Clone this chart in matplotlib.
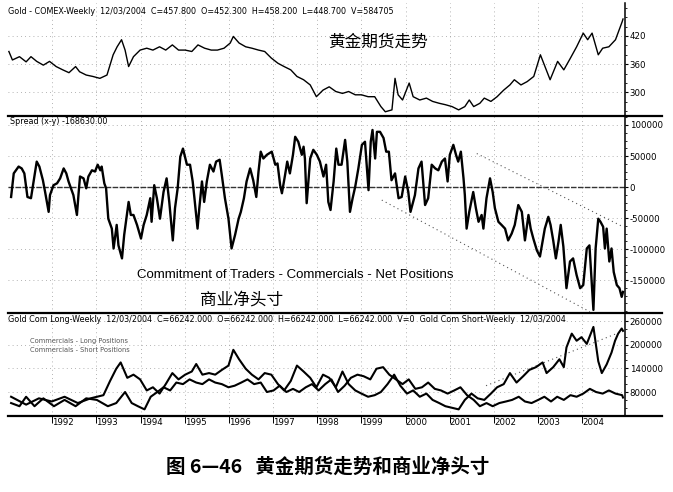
import matplotlib
matplotlib.use("Agg")
import matplotlib.pyplot as plt
from matplotlib.lines import Line2D
from matplotlib.ticker import MultipleLocator

# --- data (decimal years) ---
gold_t = [1991.02, 1991.10, 1991.26, 1991.41, 1991.52, 1991.65, 1991.80, 1991.94,
          1992.09, 1992.24, 1992.38, 1992.53, 1992.62, 1992.77, 1992.92, 1993.08,
          1993.24, 1993.38, 1993.47, 1993.57, 1993.65, 1993.73, 1993.84, 1993.99,
          1994.14, 1994.28, 1994.43, 1994.57, 1994.72, 1994.86, 1995.01, 1995.16,
          1995.30, 1995.45, 1995.60, 1995.74, 1995.89, 1996.03, 1996.10, 1996.23,
          1996.38, 1996.52, 1996.67, 1996.81, 1996.96, 1997.11, 1997.25, 1997.40,
          1997.54, 1997.69, 1997.84, 1997.98, 1998.13, 1998.27, 1998.42, 1998.57,
          1998.71, 1998.86, 1999.00, 1999.15, 1999.30, 1999.44, 1999.54, 1999.69,
          1999.76, 1999.83, 1999.93, 2000.08, 2000.17, 2000.32, 2000.47, 2000.61,
          2000.76, 2000.90, 2001.05, 2001.20, 2001.34, 2001.44, 2001.54, 2001.68,
          2001.78, 2001.93, 2002.07, 2002.22, 2002.36, 2002.46, 2002.61, 2002.75,
          2002.90, 2003.05, 2003.27, 2003.44, 2003.58, 2003.73, 2003.87, 2004.02,
          2004.12, 2004.22, 2004.36, 2004.46, 2004.60, 2004.75, 2004.90, 2004.92]
gold = [387, 369, 376, 365, 376, 366, 358, 366, 355, 348, 342, 355, 344, 337, 334, 330,
        337, 380, 397, 412, 390, 355, 376, 390, 394, 390, 397, 390, 401, 390, 390, 387,
        401, 394, 390, 390, 394, 405, 419, 405, 397, 394, 390, 387, 373, 362, 355, 348,
        334, 327, 316, 291, 305, 312, 302, 298, 302, 295, 295, 291, 291, 270, 259, 263,
        330, 295, 284, 320, 291, 284, 288, 281, 277, 274, 270, 263, 270, 284, 270, 277,
        288, 281, 291, 305, 316, 327, 316, 323, 334, 380, 327, 366, 348, 373, 397, 426,
        412, 426, 380, 394, 397, 412, 450, 456]

# commercials net position (long - short), thousands of contracts
net_t = [1991.07, 1991.13, 1991.24, 1991.31, 1991.37, 1991.44, 1991.52, 1991.65, 1991.71,
         1991.79, 1991.84, 1991.92, 1991.95, 1992.03, 1992.11, 1992.18, 1992.26, 1992.32,
         1992.37, 1992.48, 1992.56, 1992.60, 1992.63, 1992.71, 1992.77, 1992.82, 1992.90,
         1992.97, 1993.03, 1993.09, 1993.12, 1993.18, 1993.22, 1993.27, 1993.35, 1993.39,
         1993.46, 1993.50, 1993.58, 1993.63, 1993.67, 1993.73, 1993.78, 1993.84, 1993.92,
         1994.01, 1994.07, 1994.14, 1994.22, 1994.25, 1994.31, 1994.37, 1994.44, 1994.52,
         1994.59, 1994.65, 1994.73, 1994.78, 1994.84, 1994.90, 1994.96, 1995.05, 1995.12,
         1995.18, 1995.22, 1995.29, 1995.33, 1995.39, 1995.44, 1995.50, 1995.57, 1995.65,
         1995.71, 1995.79, 1995.84, 1995.91, 1995.99, 1996.06, 1996.14, 1996.22, 1996.27,
         1996.34, 1996.40, 1996.48, 1996.55, 1996.62, 1996.67, 1996.72, 1996.78, 1996.86,
         1996.97, 1997.05, 1997.10, 1997.16, 1997.20, 1997.27, 1997.32, 1997.38, 1997.45,
         1997.50, 1997.57, 1997.65, 1997.69, 1997.72, 1997.76, 1997.84, 1997.91, 1997.99,
         1998.06, 1998.14, 1998.20, 1998.25, 1998.30, 1998.37, 1998.43, 1998.48, 1998.55,
         1998.63, 1998.68, 1998.74, 1998.80, 1998.86, 1998.93, 1999.01, 1999.08, 1999.16,
         1999.21, 1999.25, 1999.31, 1999.35, 1999.42, 1999.50, 1999.56, 1999.62, 1999.68,
         1999.76, 1999.84, 1999.91, 1999.99, 2000.06, 2000.11, 2000.21, 2000.29, 2000.36,
         2000.44, 2000.51, 2000.59, 2000.67, 2000.74, 2000.82, 2000.89, 2000.95, 2001.00,
         2001.08, 2001.14, 2001.19, 2001.25, 2001.31, 2001.34, 2001.38, 2001.44, 2001.53,
         2001.59, 2001.65, 2001.72, 2001.76, 2001.83, 2001.91, 2001.97, 2002.02, 2002.10,
         2002.17, 2002.25, 2002.32, 2002.40, 2002.47, 2002.55, 2002.63, 2002.70, 2002.78,
         2002.83, 2002.89, 2002.97, 2003.04, 2003.10, 2003.15, 2003.23, 2003.28, 2003.34,
         2003.40, 2003.46, 2003.51, 2003.57, 2003.64, 2003.72, 2003.79, 2003.87, 2003.95,
         2004.02, 2004.10, 2004.16, 2004.21, 2004.25, 2004.30, 2004.36, 2004.41, 2004.47,
         2004.51, 2004.55, 2004.61, 2004.66, 2004.71, 2004.78, 2004.84, 2004.89, 2004.92]
net = [-16, 22, 33, 30, 22, -16, -18, 41, 33,
       11, -8, -40, -13, 3, 6, 14, 30, 22,
       9, -13, -45, -8, 17, 14, -2, 17, 27,
       25, 36, 27, 33, 6, -2, -51, -67, -99,
       -61, -94, -115, -77, -56, -24, -45, -45, -61,
       -83, -61, -45, -18, -56, 3, -18, -51, -8,
       14, -24, -86, -34, -2, 49, 62, 36, 36,
       9, -18, -67, -34, 9, -24, 9, 36, 25,
       41, 44, 19, -18, -51, -99, -77, -51, -40,
       -18, 9, 30, 11, -16, 25, 57, 46, 52,
       57, 36, 38, 3, -10, 19, 41, 22, 52,
       81, 73, 52, 65, 46, -26, 46, 60, 52,
       41, 17, 36, -24, -37, 9, 62, 36, 36,
       76, 41, -40, -18, 1, 30, 68, 73, -5,
       73, 92, 46, 89, 89, 79, 57, 57, 11,
       22, -18, -16, 17, -8, -40, -13, 30, 41,
       -29, -18, 36, 30, 27, 41, 46, 9, 52,
       68, 52, 41, 57, 14, -13, -67, -40, -8,
       -34, -56, -45, -67, -18, 14, -8, -34, -56,
       -61, -67, -86, -75, -61, -29, -40, -86, -45,
       -67, -83, -102, -112, -88, -67, -48, -61, -86,
       -115, -88, -61, -96, -163, -120, -115, -142, -163,
       -158, -99, -94, -153, -198, -99, -51, -56, -64,
       -99, -67, -120, -99, -137, -158, -163, -177, -169]

# commercials long / short positions, thousands of contracts
long_t = [1991.07, 1991.26, 1991.41, 1991.60, 1991.80, 1992.04, 1992.28, 1992.53, 1992.77,
          1993.01, 1993.26, 1993.45, 1993.65, 1993.80, 1993.94, 1994.09, 1994.23, 1994.38,
          1994.52, 1994.67, 1994.81, 1994.96, 1995.11, 1995.26, 1995.40, 1995.55, 1995.69,
          1995.84, 1995.99, 1996.13, 1996.28, 1996.42, 1996.57, 1996.72, 1996.86, 1997.01,
          1997.15, 1997.30, 1997.45, 1997.59, 1997.74, 1997.88, 1998.03, 1998.18, 1998.32,
          1998.47, 1998.62, 1998.76, 1998.91, 1999.05, 1999.20, 1999.34, 1999.49, 1999.63,
          1999.78, 1999.93, 2000.07, 2000.22, 2000.37, 2000.51, 2000.66, 2000.80, 2000.95,
          2001.10, 2001.24, 2001.39, 2001.54, 2001.68, 2001.83, 2001.97, 2002.12, 2002.27,
          2002.41, 2002.56, 2002.70, 2002.85, 2003.00, 2003.14, 2003.29, 2003.43, 2003.58,
          2003.73, 2003.87, 2004.02, 2004.17, 2004.31, 2004.46, 2004.60, 2004.75, 2004.90,
          2004.92]
long_pos = [52, 44, 68, 44, 64, 44, 60, 44, 64,
            60, 44, 52, 80, 52, 44, 36, 68, 80,
            92, 84, 104, 100, 112, 104, 100, 112, 104,
            100, 92, 96, 104, 112, 100, 104, 80, 84,
            96, 80, 88, 80, 92, 100, 84, 100, 112,
            80, 96, 116, 124, 120, 112, 139, 143, 124,
            112, 100, 112, 88, 92, 104, 88, 84, 76,
            84, 92, 72, 60, 44, 52, 44, 52, 56,
            60, 68, 56, 52, 60, 68, 56, 68, 60,
            72, 68, 76, 88, 80, 76, 84, 76, 72,
            66]

short_t = [1991.07, 1991.41, 1991.70, 1991.99, 1992.28, 1992.58, 1992.87, 1993.16, 1993.31,
           1993.45, 1993.55, 1993.70, 1993.84, 1993.99, 1994.14, 1994.28, 1994.43, 1994.57,
           1994.72, 1994.86, 1995.01, 1995.16, 1995.26, 1995.40, 1995.55, 1995.69, 1995.84,
           1995.99, 1996.10, 1996.23, 1996.38, 1996.52, 1996.67, 1996.81, 1996.96, 1997.11,
           1997.25, 1997.40, 1997.54, 1997.69, 1997.84, 1997.98, 1998.13, 1998.27, 1998.42,
           1998.57, 1998.71, 1998.86, 1999.00, 1999.15, 1999.30, 1999.44, 1999.59, 1999.74,
           1999.88, 2000.03, 2000.17, 2000.32, 2000.47, 2000.61, 2000.76, 2000.90, 2001.05,
           2001.20, 2001.34, 2001.49, 2001.63, 2001.78, 2001.93, 2002.07, 2002.22, 2002.36,
           2002.51, 2002.66, 2002.80, 2002.95, 2003.10, 2003.19, 2003.34, 2003.48, 2003.58,
           2003.64, 2003.76, 2003.87, 2003.98, 2004.10, 2004.25, 2004.36, 2004.44, 2004.55,
           2004.66, 2004.74, 2004.81, 2004.89, 2004.92]
short_pos = [68, 48, 64, 56, 68, 52, 64, 72, 108,
             139, 155, 116, 124, 112, 84, 92, 76, 100,
             128, 112, 124, 132, 151, 124, 128, 124, 136,
             147, 187, 163, 139, 124, 112, 128, 124, 100,
             84, 108, 147, 132, 116, 92, 124, 116, 92,
             132, 100, 84, 76, 68, 72, 80, 100, 124,
             96, 76, 84, 68, 76, 60, 52, 44, 40,
             36, 60, 76, 64, 60, 76, 92, 100, 128,
             104, 120, 136, 143, 155, 128, 143, 163, 143,
             193, 228, 210, 219, 202, 245, 158, 128, 150,
             180, 210, 228, 241, 235]

# hand-drawn trend lines on the chart
net_hi_t, net_hi = [2001.61, 2004.92], [54, -64]
net_lo_t, net_lo = [1999.46, 2004.17], [-21, -201]
pos_tr_t, pos_tr = [2001.82, 2004.75], [96, 227]

years = list(range(1992, 2005))
gold_ticks = [300, 360, 420]
net_ticks = [-150, -100, -50, 0, 50, 100]
pos_ticks = [80, 140, 200, 260]

W, H = 673, 492
CJK = ["Noto Sans CJK SC", "DejaVu Sans"]


def box(x0, y0, x1, y1):
    """pixel box measured from the top-left -> add_axes rect"""
    return [x0 / W, 1 - y1 / H, (x1 - x0) / W, (y1 - y0) / H]


def px(x, y):
    return x / W, 1 - y / H


def style(ax, ticks, labels, ylim, minor):
    ax.set_xlim(1991.0, 2004.965)
    ax.set_ylim(*ylim)
    for s in ("top", "left", "bottom"):
        ax.spines[s].set_visible(False)
    ax.spines["right"].set_linewidth(1.1)
    ax.yaxis.tick_right()
    ax.set_yticks(ticks)
    ax.set_yticklabels(labels)
    ax.yaxis.set_minor_locator(MultipleLocator(minor))
    ax.tick_params(axis="y", which="major", direction="out", length=2.5, width=0.8,
                   pad=0.8, labelsize=6.2)
    ax.tick_params(axis="y", which="minor", direction="out", length=1.2, width=0.6)
    ax.set_xticks(years)
    ax.tick_params(axis="x", bottom=False, labelbottom=False)
    ax.grid(True, color="#9a9a9a", lw=0.6, linestyle=(0, (1, 4)))
    ax.set_axisbelow(True)


fig = plt.figure(figsize=(W / 100, H / 100), dpi=100)
ax_gold = fig.add_axes(box(8, 3, 625, 116))
ax_net = fig.add_axes(box(8, 116, 625, 313))
ax_pos = fig.add_axes(box(8, 313, 625, 416))

style(ax_gold, gold_ticks, [str(v) for v in gold_ticks], (250, 490), 20)
style(ax_net, net_ticks, [str(v * 1000) for v in net_ticks], (-203, 114.5), 12.5)
style(ax_pos, pos_ticks, [str(v * 1000) for v in pos_ticks], (19.2, 280.3), 20)

ax_gold.plot(gold_t, gold, color="black", lw=1.0)

ax_net.axhline(0, color="#333333", lw=1.0, linestyle=(0, (4, 1)))
ax_net.plot(net_hi_t, net_hi, color="#555555", lw=0.8, linestyle=(0, (1, 3)))
ax_net.plot(net_lo_t, net_lo, color="#555555", lw=0.8, linestyle=(0, (1, 3)))
ax_net.plot(net_t, net, color="black", lw=1.7)

ax_pos.plot(pos_tr_t, pos_tr, color="#555555", lw=0.8, linestyle=(0, (1, 3)))
ax_pos.plot(long_t, long_pos, color="black", lw=1.5)
ax_pos.plot(short_t, short_pos, color="black", lw=1.5)

ax_pos.tick_params(axis="x", bottom=True, labelbottom=True, direction="out",
                   length=5, width=0.7, pad=-3.5, labelsize=6.2)
ax_pos.set_xticklabels([str(y) for y in years], ha="left")

# heavy separators between the panels
for y in (116, 313, 416):
    fig.add_artist(Line2D([8 / W, 662 / W], [1 - y / H] * 2,
                          transform=fig.transFigure, color="black", lw=1.6))

hdr = dict(fontsize=5.8, va="center", ha="left")
fig.text(*px(8, 12), "Gold - COMEX-Weekly  12/03/2004  C=457.800  O=452.300  "
         "H=458.200  L=448.700  V=584705", **hdr)
fig.text(*px(10, 122), "Spread (x-y) -168630.00", **hdr)
fig.text(*px(8, 320), "Gold Com Long-Weekly  12/03/2004  C=66242.000  O=66242.000  "
         "H=66242.000  L=66242.000  V=0  Gold Com Short-Weekly  12/03/2004", **hdr)
fig.text(*px(30, 341), "Commercials - Long Positions", fontsize=4.8, color="#555555",
         va="center")
fig.text(*px(30, 350), "Commercials - Short Positions", fontsize=4.8, color="#555555",
         va="center")

fig.text(*px(378, 42), "黄金期货走势", family=CJK, fontsize=12, ha="center", va="center")
fig.text(*px(295, 275), "Commitment of Traders - Commercials - Net Positions",
         family="Liberation Sans", fontsize=9.5, ha="center", va="center")
fig.text(*px(242, 300), "商业净头寸", family=CJK, fontsize=12, ha="center", va="center")
fig.text(*px(328, 467), "图 6—46   黄金期货走势和商业净头寸", family=CJK, fontsize=14,
         fontweight="bold", ha="center", va="center")

fig.savefig("out.png", dpi=100, facecolor="white")
